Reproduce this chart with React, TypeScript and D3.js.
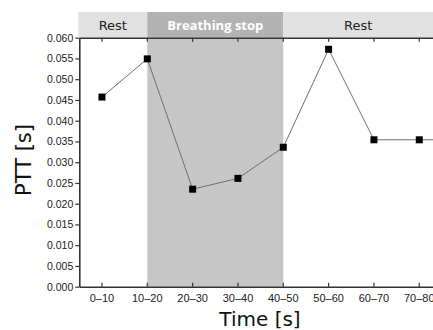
import { useRef, useEffect } from "react";
import * as d3 from "d3";

const categories = ["0-10", "10-20", "20-30", "30-40", "40-50", "50-60", "60-70", "70-80", "80-90"];
const tickLabels = ["0\u201310", "10\u201320", "20\u201330", "30\u201340", "40\u201350", "50\u201360", "60\u201370", "70\u201380"];
const pttValues = [0.0457, 0.0549, 0.0235, 0.0261, 0.0336, 0.0572, 0.0354, 0.0354, 0.0354];
const yTicks = [0, 0.005, 0.01, 0.015, 0.02, 0.025, 0.03, 0.035, 0.04, 0.045, 0.05, 0.055, 0.06];
const phaseLabels = ["Rest", "Breathing stop", "Rest"];
const phaseStarts = [null, "10-20", "40-50"];
const phaseEnds = ["10-20", "40-50", null];

export default function App() {
  const svgRef = useRef(null);

  useEffect(() => {
    const width = 433;
    const left = 79.3;
    const top = 37.7;
    const bottom = 286.7;
    const step = 45.33;

    const svg = d3.select(svgRef.current);
    svg.selectAll("*").remove();

    const x = d3.scaleBand()
      .domain(categories)
      .range([left, left + step * categories.length])
      .padding(0);
    const cx = (c: string) => (x(c) as number) + x.bandwidth() / 2;
    const shownTicks = categories.slice(0, tickLabels.length);

    const y = d3.scaleLinear().domain([0, 0.06]).range([bottom, top]);

    // shaded breathing stop region
    svg.append("rect")
      .attr("x", cx("10-20"))
      .attr("y", top)
      .attr("width", cx("40-50") - cx("10-20"))
      .attr("height", bottom - top)
      .attr("fill", "#c6c6c6");

    // phase header bands
    const bandTop = 12;
    phaseLabels.forEach((lab, i) => {
      const x0 = phaseStarts[i] ? cx(phaseStarts[i] as string) : left - 1;
      const x1 = phaseEnds[i] ? cx(phaseEnds[i] as string) : width;
      const isStop = lab === "Breathing stop";
      svg.append("rect")
        .attr("x", x0)
        .attr("y", bandTop)
        .attr("width", x1 - x0)
        .attr("height", top - bandTop)
        .attr("fill", isStop ? "#b3b3b3" : "#e1e1e1");
      svg.append("text")
        .attr("x", (x0 + x1) / 2)
        .attr("y", 29.5)
        .attr("text-anchor", "middle")
        .attr("font-family", isStop ? "'Open Sans', sans-serif" : "'DejaVu Sans', sans-serif")
        .attr("font-weight", isStop ? "bold" : "normal")
        .attr("font-size", "13px")
        .attr("fill", isStop ? "#ffffff" : "#222")
        .text(lab);
    });

    // line
    const line = d3.line<number>()
      .x((d, i) => cx(categories[i]))
      .y((d) => y(d));
    svg.append("path")
      .datum(pttValues)
      .attr("d", line)
      .attr("fill", "none")
      .attr("stroke", "#6e6e6e")
      .attr("stroke-width", 1);

    // markers
    svg.selectAll("rect.marker")
      .data(pttValues)
      .join("rect")
      .classed("marker", true)
      .attr("x", (d, i) => cx(categories[i]) - 3.5)
      .attr("y", (d) => y(d) - 3.5)
      .attr("width", 7)
      .attr("height", 7)
      .attr("fill", "#000");

    const axisColor = "#333";

    // y axis
    const yAxis = svg.append("g")
      .attr("transform", `translate(${left},0)`)
      .call(d3.axisLeft(y).tickValues(yTicks).tickFormat(d3.format(".3f")).tickSize(4).tickSizeOuter(0));
    yAxis.select(".domain").attr("stroke", axisColor).attr("stroke-width", 1.6);
    yAxis.selectAll(".tick line").attr("stroke", axisColor).attr("stroke-width", 1.2);
    yAxis.selectAll(".tick text")
      .attr("font-family", "'Liberation Sans', Arial, sans-serif")
      .attr("font-size", "10.5px")
      .attr("fill", "#222")
      .attr("x", -6);

    // x axis bottom
    const xAxis = svg.append("g")
      .attr("transform", `translate(0,${bottom})`)
      .call(d3.axisBottom(x).tickValues(shownTicks).tickFormat((d, i) => tickLabels[i]).tickSize(-4).tickSizeOuter(0));
    xAxis.select(".domain").attr("stroke", axisColor).attr("stroke-width", 1.6);
    xAxis.selectAll(".tick line").attr("stroke", axisColor).attr("stroke-width", 1.2);
    xAxis.selectAll(".tick text")
      .attr("font-family", "'Liberation Sans', Arial, sans-serif")
      .attr("font-size", "11px")
      .attr("fill", "#222")
      .attr("y", 7.5);

    // x axis top
    const xTop = svg.append("g")
      .attr("transform", `translate(0,${top})`)
      .call(d3.axisTop(x).tickValues(shownTicks).tickFormat(() => "").tickSize(-4).tickSizeOuter(0));
    xTop.select(".domain").attr("stroke", axisColor).attr("stroke-width", 1.6);
    xTop.selectAll(".tick line").attr("stroke", axisColor).attr("stroke-width", 1.2);

    // titles
    svg.append("text")
      .attr("x", 260)
      .attr("y", 326)
      .attr("text-anchor", "middle")
      .attr("font-family", "'DejaVu Sans', sans-serif")
      .attr("font-size", "20px")
      .attr("fill", "#111")
      .text("Time [s]");

    svg.append("text")
      .attr("transform", `translate(31,160) rotate(-90)`)
      .attr("text-anchor", "middle")
      .attr("font-family", "'DejaVu Sans', sans-serif")
      .attr("font-size", "21px")
      .attr("fill", "#111")
      .text("PTT [s]");
  }, []);

  return (
    <svg
      ref={svgRef}
      width={433}
      height={330}
      style={{ position: "absolute", left: 0, top: 0, background: "#fff" }}
    />
  );
}
